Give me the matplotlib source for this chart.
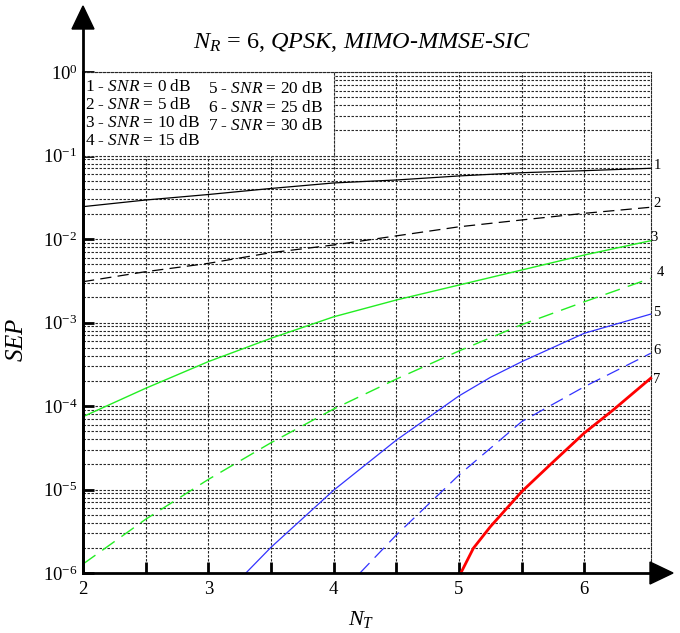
import matplotlib
matplotlib.use("Agg")
import matplotlib.pyplot as plt
from matplotlib.patches import Polygon, Rectangle
from matplotlib.lines import Line2D

plt.rcParams["font.family"] = ["Liberation Serif", "DejaVu Serif"]
plt.rcParams["mathtext.fontset"] = "custom"
plt.rcParams["mathtext.rm"] = "Liberation Serif"
plt.rcParams["mathtext.it"] = "Liberation Serif:italic"
plt.rcParams["mathtext.bf"] = "Liberation Serif:bold"

# values (SEP vs number of transmit antennas)
nt_1 = [2.0, 2.5, 3.0, 3.5, 4.0, 4.5, 5.0, 5.5, 6.0, 6.53]
sep_1 = [0.0244, 0.0293, 0.0341, 0.0403, 0.0469, 0.0509, 0.0569, 0.0622, 0.0658, 0.0703]

nt_2 = [2.0, 2.5, 3.0, 3.5, 4.0, 4.5, 5.0, 5.5, 6.0, 6.53]
sep_2 = [3.08e-3, 4.06e-3, 5.11e-3, 6.86e-3, 8.48e-3, 1.09e-2, 1.40e-2, 1.69e-2, 2.03e-2, 2.40e-2]

nt_3 = [2.0, 2.5, 3.0, 3.5, 4.0, 4.5, 5.0, 5.5, 6.0, 6.53]
sep_3 = [7.45e-5, 1.63e-4, 3.40e-4, 6.47e-4, 1.17e-3, 1.86e-3, 2.81e-3, 4.25e-3, 6.43e-3, 9.54e-3]

nt_4 = [2.0, 2.5, 3.0, 3.5, 4.0, 4.5, 5.0, 5.5, 6.0, 6.53]
sep_4 = [1.28e-6, 4.40e-6, 1.32e-5, 3.63e-5, 9.2e-5, 2.1e-4, 4.56e-4, 9.42e-4, 1.77e-3, 3.38e-3]

nt_5 = [3.3, 3.5, 4.0, 4.5, 5.0, 5.25, 5.5, 6.0, 6.53]
sep_5 = [1.0e-6, 2.03e-6, 9.8e-6, 3.9e-5, 1.32e-4, 2.2e-4, 3.39e-4, 7.43e-4, 1.26e-3]

nt_6 = [4.21, 4.5, 5.0, 5.5, 6.0, 6.53]
sep_6 = [1.0e-6, 2.85e-6, 1.49e-5, 6.49e-5, 1.70e-4, 4.28e-4]

nt_7 = [5.015, 5.115, 5.25, 5.5, 5.74, 6.0, 6.23, 6.53]
sep_7 = [1.0e-6, 1.98e-6, 3.58e-6, 9.41e-6, 2.06e-5, 4.75e-5, 8.95e-5, 2.15e-4]

snr_db = [0, 5, 10, 15, 20, 25, 30]
x_ticks = [2, 2.5, 3, 3.5, 4, 4.5, 5, 5.5, 6]
x_labels = ["2", "", "3", "", "4", "", "5", "", "6"]
y_exps = [-6, -5, -4, -3, -2, -1, 0]

# curve number positions at the right edge (x, y in data units)
label_pos = [(6.58, 0.0753), (6.58, 0.0268), (6.556, 0.0103), (6.604, 0.0040),
             (6.58, 0.00130), (6.58, 4.6e-4), (6.58, 2.1e-4)]

grid_ls = (0, (2.2, 1.4))
x_max = 6.53

fig = plt.figure(figsize=(6.8, 6.33), dpi=100)
ax = fig.add_axes([83 / 680, 1 - 573 / 633, 567.7 / 680, 501 / 633])
ax.set_yscale("log")
ax.set_xlim(2, x_max)
ax.set_ylim(1e-6, 1)

series = [
    (nt_1, sep_1, dict(color="black", lw=0.9, ls="-")),
    (nt_2, sep_2, dict(color="black", lw=0.9, ls=(0, (9, 5)))),
    (nt_3, sep_3, dict(color="#22ee22", lw=1.0, ls="-")),
    (nt_4, sep_4, dict(color="#22ee22", lw=1.0, ls=(0, (11, 6)))),
    (nt_5, sep_5, dict(color="#3333ff", lw=0.9, ls="-")),
    (nt_6, sep_6, dict(color="#3333ff", lw=0.9, ls=(0, (11, 6)))),
    (nt_7, sep_7, dict(color="red", lw=2.0, ls="-")),
]
for xs, ys, st in series:
    ax.plot(xs, ys, zorder=4, clip_on=False, **st)

# grid
ax.set_xticks(x_ticks)
ax.set_xticklabels(x_labels)
ax.set_yticks([10.0 ** e for e in y_exps])
ax.set_yticklabels([r"$10^{%d}$" % e for e in y_exps])
ax.yaxis.set_minor_locator(matplotlib.ticker.LogLocator(base=10, subs=range(2, 10), numticks=20))
ax.yaxis.set_minor_formatter(matplotlib.ticker.NullFormatter())
ax.grid(True, which="both", axis="y", color="0.15", lw=0.8, ls=grid_ls, zorder=1)
ax.grid(True, which="major", axis="x", color="0.15", lw=0.8, ls=grid_ls, zorder=1)
ax.set_axisbelow(True)

ax.tick_params(which="major", direction="in", length=8, width=2, labelsize=13.5, pad=6)
ax.tick_params(which="minor", length=0)
ax.tick_params(axis="y", pad=4)

for side in ("top", "right"):
    ax.spines[side].set_linestyle(grid_ls)
    ax.spines[side].set_linewidth(0.8)
    ax.spines[side].set_color("0.15")
for side in ("left", "bottom"):
    ax.spines[side].set_linewidth(2)
    ax.spines[side].set_zorder(6)

# legend box (white, covers the grid)
ax.add_patch(Rectangle((2, 0.1), 2.0, 0.9, facecolor="white", edgecolor="0.15",
                       lw=0.8, ls=grid_ls, zorder=2))
col1 = [r"%d - $SNR$ = %d dB" % (i + 1, s) for i, s in enumerate(snr_db[:4])]
col2 = [r"%d - $SNR$ = %d dB" % (i + 5, s) for i, s in enumerate(snr_db[4:])]
for i, t in enumerate(col1):
    fig.text(85 / 680, 1 - (87 + 18 * i) / 633, t, fontsize=12.4, ha="left", va="center")
for i, t in enumerate(col2):
    fig.text(208 / 680, 1 - (89 + 18.5 * i) / 633, t, fontsize=12.4, ha="left", va="center")

for i, (lx, ly) in enumerate(label_pos):
    ax.text(lx, ly, str(i + 1), fontsize=10.5, ha="center", va="center", clip_on=False)

# axis labels and title
ax.set_ylabel("$SEP$", fontsize=18)
ax.yaxis.set_label_coords(-0.097, 0.465)
ax.set_xlabel("$N_T$", fontsize=16)
ax.xaxis.set_label_coords(0.49, -0.072)
fig.text(362 / 680, 1 - 42 / 633,
         r"$N_R$ = 6, $QPSK$, $MIMO$-$MMSE$-$SIC$", fontsize=17.5, ha="center", va="center")

# arrows on the axes
W, H = 680.0, 633.0
fig.add_artist(Line2D([83 / W, 83 / W], [1 - 573 / H, 1 - 29 / H], color="black", lw=2,
                      transform=fig.transFigure))
fig.add_artist(Polygon([(72 / W, 1 - 29 / H), (94 / W, 1 - 29 / H), (83 / W, 1 - 6 / H)],
                       closed=True, color="black", transform=fig.transFigure))
fig.add_artist(Polygon([(650 / W, 1 - 562 / H), (650 / W, 1 - 584 / H), (673 / W, 1 - 573 / H)],
                       closed=True, color="black", transform=fig.transFigure))

fig.savefig("out.png", dpi=100)
